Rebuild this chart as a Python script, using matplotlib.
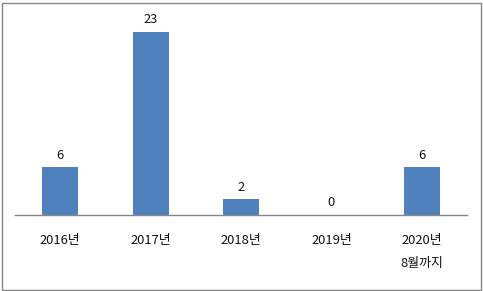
import matplotlib
matplotlib.use("Agg")
import matplotlib.pyplot as plt
from matplotlib.patches import Rectangle

plt.rcParams['font.family'] = ['Noto Sans CJK KR', 'DejaVu Sans']

categories = ["2016년", "2017년", "2018년", "2019년", "2020년\n8월까지"]
values = [6, 23, 2, 0, 6]

W, H = 483, 291
fig = plt.figure(figsize=(W / 100, H / 100), dpi=100)
fig.patch.set_facecolor("white")
fig.patches.append(Rectangle((1.5 / W, 1.5 / H), (W - 4) / W, (H - 4) / H,
                             transform=fig.transFigure, fill=False,
                             edgecolor="#868686", linewidth=1.0))

ax = fig.add_axes([15 / W, 76 / H, 452 / W, 199 / H])
x = list(range(len(categories)))
bars = ax.bar(x, values, width=0.4, color="#4F81BD")
ax.set_xlim(-0.5, len(categories) - 0.5)
ax.set_ylim(0, 25)

for xi, v in zip(x, values):
    ax.annotate(str(v), (xi, v), xytext=(0, 4), textcoords="offset points",
                ha="center", va="bottom", fontsize=9.3, color="#111111",
                fontweight="medium")

ax.set_xticks(x)
ax.set_xticklabels(categories, fontsize=9.3, color="#111111", linespacing=2.0,
                   fontweight="medium")
ax.tick_params(axis="x", length=0, pad=13.5)
ax.set_yticks([])
for s in ["top", "left", "right"]:
    ax.spines[s].set_visible(False)
ax.spines["bottom"].set_color("#868686")
ax.spines["bottom"].set_linewidth(1.0)
ax.patch.set_alpha(0)

fig.savefig("out.png", dpi=100)
